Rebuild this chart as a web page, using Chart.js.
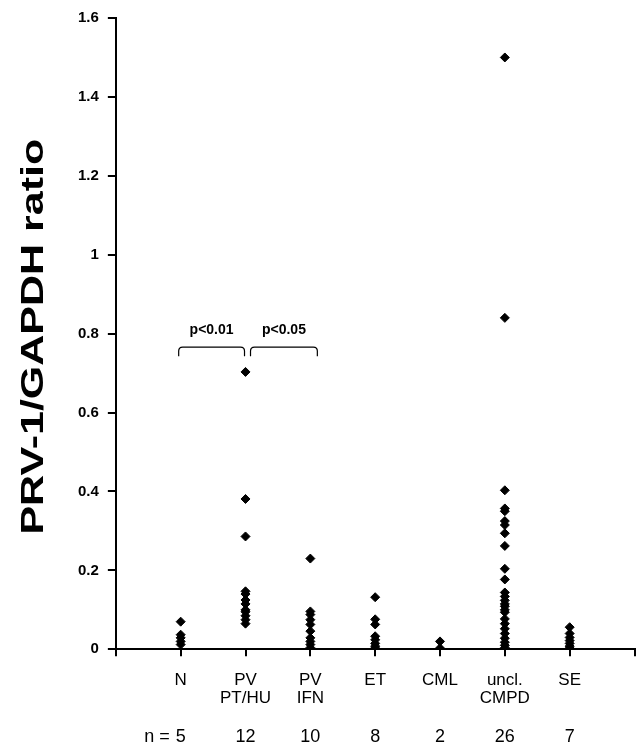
<!DOCTYPE html>
<html>
<head>
<meta charset="utf-8">
<script src="https://cdn.jsdelivr.net/npm/chart.js@4.4.0/dist/chart.umd.min.js"></script>
<style>
  html, body { margin: 0; padding: 0; background: #fff; }
  #wrap { width: 640px; height: 749px; position: relative; }
</style>
</head>
<body>
<div id="wrap"><canvas id="prv-chart"></canvas></div>
<script>
// categories (multi-line tick labels)
const categories = [['N'], ['PV', 'PT/HU'], ['PV', 'IFN'], ['ET'], ['CML'], ['uncl.', 'CMPD'], ['SE']];

// PRV-1/GAPDH ratio per patient
const nVals = [0.07, 0.037, 0.029, 0.02, 0.012];
const pvPtHuVals = [0.703, 0.381, 0.286, 0.147, 0.14, 0.125, 0.115, 0.1, 0.095, 0.085, 0.075, 0.065];
const pvIfnVals = [0.23, 0.096, 0.088, 0.075, 0.063, 0.046, 0.029, 0.02, 0.012, 0.004];
const etVals = [0.132, 0.076, 0.063, 0.033, 0.024, 0.015, 0.008, 0.003];
const cmlVals = [0.02, 0.003];
const unclVals = [1.5, 0.84, 0.403, 0.357, 0.35, 0.325, 0.315, 0.294, 0.262, 0.204, 0.177, 0.144, 0.134,
                  0.124, 0.115, 0.109, 0.1, 0.094, 0.077, 0.065, 0.052, 0.04, 0.028, 0.018, 0.01, 0.004];
const seVals = [0.056, 0.04, 0.03, 0.022, 0.015, 0.008, 0.003];

const groups = [nVals, pvPtHuVals, pvIfnVals, etVals, cmlVals, unclVals, seVals];

const yTicks = [0, 0.2, 0.4, 0.6, 0.8, 1, 1.2, 1.4, 1.6];
const pLabels = ['p<0.01', 'p<0.05'];
const pPairs = [[0, 1], [1, 2]];
const yTitle = 'PRV-1/GAPDH ratio';

const points = [];
groups.forEach((vals, i) => vals.forEach(v => points.push({ x: i + 1, y: v })));

Chart.defaults.font.family = "'Liberation Sans', Arial, sans-serif";
Chart.defaults.color = '#000';

// title, brackets with p values, and the n = row
const extras = {
  id: 'extras',
  afterDraw(chart) {
    const { ctx, chartArea, scales: { x, y } } = chart;
    ctx.save();
    ctx.fillStyle = '#000';
    ctx.strokeStyle = '#000';

    // y axis title, squeezed like the original
    ctx.save();
    ctx.translate(43, (chartArea.top + chartArea.bottom) / 2 + 3);
    ctx.rotate(-Math.PI / 2);
    ctx.scale(1, 0.75);
    ctx.font = "bold 43px 'Liberation Sans', Arial, sans-serif";
    ctx.textAlign = 'center';
    ctx.textBaseline = 'alphabetic';
    ctx.fillText(yTitle, 0, 0);
    ctx.restore();

    // brackets
    const top = y.getPixelForValue(0.766);
    const bot = y.getPixelForValue(0.743);
    const r = 4;
    pPairs.forEach(([a, b], i) => {
      const x1 = x.getPixelForValue(a + 1) + (i ? 5 : -2);
      const x2 = x.getPixelForValue(b + 1) + (i ? 7 : -1);
      ctx.lineWidth = 1.2;
      ctx.beginPath();
      ctx.moveTo(x1, bot);
      ctx.lineTo(x1, top + r);
      ctx.quadraticCurveTo(x1, top, x1 + r, top);
      ctx.lineTo(x2 - r, top);
      ctx.quadraticCurveTo(x2, top, x2, top + r);
      ctx.lineTo(x2, bot);
      ctx.stroke();
      ctx.font = "bold 14px 'Liberation Sans', Arial, sans-serif";
      ctx.textAlign = 'center';
      ctx.textBaseline = 'middle';
      ctx.fillText(pLabels[i], (x1 + x2) / 2, y.getPixelForValue(0.809));
    });

    // n = row
    ctx.font = "18px 'Liberation Sans', Arial, sans-serif";
    ctx.textBaseline = 'middle';
    const rowY = 737;
    groups.forEach((vals, i) => {
      const px = x.getPixelForValue(i + 1);
      ctx.textAlign = 'center';
      ctx.fillText(String(vals.length), px, rowY);
      if (i === 0) {
        ctx.textAlign = 'right';
        ctx.fillText('n =', px - 11, rowY);
      }
    });
    ctx.restore();
  }
};

new Chart(document.getElementById('prv-chart'), {
  type: 'scatter',
  data: {
    datasets: [{
      data: points,
      pointStyle: 'rectRot',
      pointRadius: 4.5,
      pointBorderWidth: 1,
      backgroundColor: '#000',
      borderColor: '#000'
    }]
  },
  options: {
    responsive: true,
    maintainAspectRatio: false,
    animation: false,
    layout: { padding: { left: 69, top: 17, right: 1, bottom: 27 } },
    plugins: {
      legend: { display: false },
      tooltip: { enabled: false }
    },
    scales: {
      x: {
        type: 'linear',
        min: 0,
        max: 8,
        afterBuildTicks: axis => {
          axis.ticks = [0, 1, 2, 3, 4, 5, 6, 7, 8].map(v => ({ value: v }));
        },
        afterFit: axis => {
          axis.paddingRight = 0;
        },
        ticks: {
          autoSkip: false,
          maxRotation: 0,
          padding: 15,
          font: { size: 17, lineHeight: 1.05 },
          callback: v => categories[v - 1] || ''
        },
        grid: {
          drawOnChartArea: false,
          color: '#000',
          lineWidth: 2,
          tickLength: 7,
          tickWidth: 2
        },
        border: { color: '#000', width: 2 }
      },
      y: {
        min: 0,
        max: 1.6,
        afterBuildTicks: axis => {
          axis.ticks = yTicks.map(v => ({ value: v }));
        },
        ticks: {
          padding: 9,
          font: { size: 15, weight: 'bold' },
          callback: v => String(v)
        },
        grid: {
          drawOnChartArea: false,
          color: '#000',
          lineWidth: 2,
          tickLength: 8,
          tickWidth: 2
        },
        border: { color: '#000', width: 2 }
      }
    }
  },
  plugins: [extras]
});
</script>
</body>
</html>
